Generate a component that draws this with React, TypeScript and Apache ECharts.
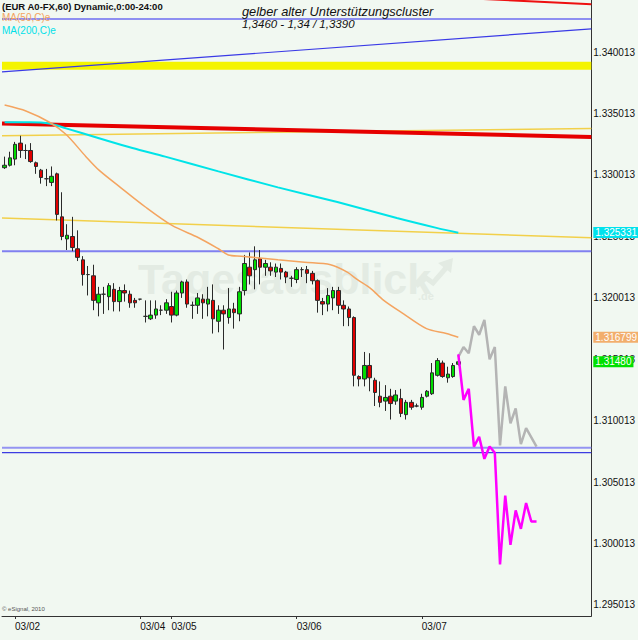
import React, { useEffect, useRef } from 'react';
import * as echarts from 'echarts';

// ---------- data ----------
const SLOTS = 113; // hourly slots on the x axis
const Y_MIN = 1.294108;
const Y_MAX = 1.34425;

// [open, close, low, high]
const candles: number[][] = [
  [1.3306, 1.3308, 1.3305, 1.3315], [1.3308, 1.3314, 1.3307, 1.3319], [1.3313, 1.3325, 1.3308, 1.3327],
  [1.3326, 1.3320, 1.3314, 1.3332], [1.3320, 1.3320, 1.3313, 1.3325], [1.3320, 1.3311, 1.3310, 1.3326],
  [1.3310, 1.3307, 1.3301, 1.3311], [1.3304, 1.3298, 1.3293, 1.3305], [1.3297, 1.3297, 1.3291, 1.3305],
  [1.3294, 1.3299, 1.3291, 1.3307], [1.3301, 1.3268, 1.3263, 1.3302], [1.3266, 1.3250, 1.3247, 1.3286],
  [1.3248, 1.3251, 1.3239, 1.3260], [1.3250, 1.3241, 1.3238, 1.3266], [1.3240, 1.3233, 1.3230, 1.3255],
  [1.3231, 1.3219, 1.3210, 1.3234], [1.3219, 1.3219, 1.3202, 1.3226], [1.3218, 1.3198, 1.3190, 1.3227],
  [1.3196, 1.3203, 1.3185, 1.3209], [1.3203, 1.3203, 1.3187, 1.3209], [1.3201, 1.3210, 1.3190, 1.3212],
  [1.3207, 1.3197, 1.3189, 1.3212], [1.3197, 1.3206, 1.3189, 1.3209], [1.3206, 1.3204, 1.3197, 1.3211],
  [1.3203, 1.3196, 1.3192, 1.3206], [1.3198, 1.3196, 1.3192, 1.3200], [1.3199, 1.3199, 1.3198, 1.3199],
  [1.3185, 1.3185, 1.3180, 1.3198], [1.3183, 1.3186, 1.3182, 1.3198], [1.3186, 1.3191, 1.3183, 1.3198],
  [1.3190, 1.3190, 1.3186, 1.3194], [1.3190, 1.3196, 1.3187, 1.3199], [1.3193, 1.3186, 1.3180, 1.3205],
  [1.3186, 1.3204, 1.3185, 1.3206], [1.3204, 1.3213, 1.3200, 1.3214], [1.3213, 1.3195, 1.3192, 1.3215],
  [1.3194, 1.3194, 1.3183, 1.3197], [1.3194, 1.3200, 1.3187, 1.3204], [1.3199, 1.3196, 1.3183, 1.3203],
  [1.3195, 1.3199, 1.3185, 1.3209], [1.3198, 1.3183, 1.3171, 1.3211], [1.3181, 1.3190, 1.3172, 1.3194],
  [1.3190, 1.3187, 1.3158, 1.3194], [1.3184, 1.3191, 1.3179, 1.3208], [1.3191, 1.3188, 1.3175, 1.3196],
  [1.3187, 1.3205, 1.3181, 1.3209], [1.3206, 1.3228, 1.3202, 1.3235], [1.3225, 1.3218, 1.3211, 1.3237],
  [1.3223, 1.3231, 1.3207, 1.3242], [1.3232, 1.3225, 1.3211, 1.3239], [1.3225, 1.3228, 1.3218, 1.3231],
  [1.3225, 1.3222, 1.3218, 1.3229], [1.3221, 1.3225, 1.3217, 1.3228], [1.3224, 1.3221, 1.3215, 1.3228],
  [1.3221, 1.3217, 1.3212, 1.3222], [1.3216, 1.3216, 1.3209, 1.3218], [1.3215, 1.3223, 1.3212, 1.3225],
  [1.3223, 1.3223, 1.3217, 1.3225], [1.3223, 1.3220, 1.3212, 1.3226], [1.3220, 1.3214, 1.3211, 1.3222],
  [1.3214, 1.3198, 1.3188, 1.3215], [1.3197, 1.3195, 1.3186, 1.3200], [1.3195, 1.3202, 1.3189, 1.3208],
  [1.3200, 1.3206, 1.3190, 1.3209], [1.3206, 1.3194, 1.3187, 1.3209], [1.3194, 1.3191, 1.3177, 1.3198],
  [1.3191, 1.3184, 1.3177, 1.3193], [1.3184, 1.3137, 1.3128, 1.3185], [1.3136, 1.3134, 1.3128, 1.3137],
  [1.3134, 1.3145, 1.3128, 1.3156], [1.3145, 1.3135, 1.3124, 1.3155], [1.3133, 1.3123, 1.3112, 1.3135],
  [1.3120, 1.3115, 1.3111, 1.3132], [1.3116, 1.3119, 1.3108, 1.3129], [1.3120, 1.3114, 1.3101, 1.3126],
  [1.3116, 1.3121, 1.3113, 1.3125], [1.3118, 1.3106, 1.3103, 1.3126], [1.3105, 1.3115, 1.3101, 1.3117],
  [1.3115, 1.3111, 1.3109, 1.3117], [1.3112, 1.3112, 1.3111, 1.3114], [1.3111, 1.3119, 1.3109, 1.3122],
  [1.3120, 1.3124, 1.3119, 1.3125], [1.3122, 1.3139, 1.3121, 1.3147], [1.3137, 1.3149, 1.3136, 1.3151],
  [1.3147, 1.3136, 1.3135, 1.3149], [1.3135, 1.3138, 1.3131, 1.3144], [1.3136, 1.3145, 1.3135, 1.3147],
  [1.3146, 1.3148, 1.3145, 1.3154],
];

// [bar position, value]
const ma50 = [
  [0, 1.3357], [4.2, 1.3352], [8.6, 1.3343], [11.8, 1.3333], [15.6, 1.3315], [18.1, 1.3304],
  [21.9, 1.3291], [27, 1.3274], [32.1, 1.3259], [37.2, 1.3249], [41, 1.3240], [42.9, 1.3235],
  [45.4, 1.3234], [52.4, 1.3231], [57.5, 1.3229], [62.5, 1.3227], [65.7, 1.3221], [67.6, 1.3215],
  [70.1, 1.3208], [72.7, 1.3198], [76.5, 1.3187], [80.9, 1.3175], [84.7, 1.3171], [87, 1.3168],
];
const ma200 = [
  [0, 1.3343], [4.8, 1.3343], [8.6, 1.3342], [11.8, 1.3338], [18.1, 1.3330], [24.5, 1.3322],
  [30.8, 1.3315], [41, 1.3303], [52.4, 1.3290], [63.8, 1.3278], [75.2, 1.3265], [82.8, 1.3257],
  [87, 1.3253],
];
const grayPath = [
  [87, 1.3152], [88, 1.3160], [89, 1.3155], [90, 1.3177], [91, 1.3170], [92, 1.3182], [93, 1.3150],
  [94, 1.3160], [95, 1.3080], [96, 1.3128], [97, 1.3098], [98, 1.3110], [99, 1.3081], [100, 1.3094],
  [102, 1.3079],
];
const magentaPath = [
  [87, 1.3154], [88, 1.3117], [89, 1.3126], [90, 1.3079], [91, 1.3087], [92, 1.3069], [93, 1.3079],
  [94, 1.3074], [95, 1.2983], [96, 1.3039], [97, 1.2999], [98, 1.3027], [99, 1.3012], [100, 1.3033],
  [101, 1.3018], [102, 1.3018],
];

// drawn lines: [startBar, startValue, endBar, endValue]
const redThick = [-0.5, 1.3342, 112.5, 1.3331];
const redThin = [88.5, 1.3444, 112.5, 1.3439];
const blueTop = [-0.5, 1.3427, 112.5, 1.3427];
const blueRise = [-0.5, 1.3384, 112.5, 1.3419];
const yellowBand = [-0.5, 1.3389, 112.5, 1.3389];
const goldUpper = [-0.5, 1.3332, 112.5, 1.3338];
const goldLower = [-0.5, 1.3265, 112.5, 1.3249];
const blueMid = [-0.5, 1.3238, 112.5, 1.3238];
const blueLow1 = [-0.5, 1.3078, 112.5, 1.3078];
const blueLow2 = [-0.5, 1.3074, 112.5, 1.3074];

const yTicks = [1.295013, 1.300013, 1.305013, 1.310013, 1.315013, 1.320013, 1.325013, 1.330013, 1.335013, 1.340013];
const dateTicks: [number, string][] = [[2, '03/02'], [26, '03/04'], [32, '03/05'], [56, '03/06'], [80, '03/07']];

const ma200Last = 1.325331;
const ma50Last = 1.316799;
const lastClose = 1.3148;

const FONT = '"Liberation Sans", Arial, sans-serif';

function seg(s: number[]) {
  return [[s[0], s[1]], [s[2], s[3]]];
}

function lineSeries(data: number[][], color: string, width: number, z: number, extra: any = {}) {
  return {
    type: 'line',
    xAxisIndex: 1,
    yAxisIndex: 0,
    data,
    symbol: 'none',
    silent: true,
    z,
    clip: true,
    lineStyle: { color, width },
    ...extra,
  };
}

function tagMarkLine(value: number, text: string, bg: string) {
  return {
    symbol: ['none', 'none'],
    silent: true,
    precision: 6,
    z: 10,
    lineStyle: { color: 'rgba(0,0,0,0)', width: 1, type: 'solid' },
    label: {
      show: true,
      position: 'end',
      formatter: text,
      color: '#ffffff',
      backgroundColor: bg,
      padding: [1, 2, 0, 2],
      fontSize: 10,
      fontFamily: FONT,
      distance: 2,
    },
    data: [{ yAxis: value }],
  };
}

export default function App() {
  const ref = useRef<HTMLDivElement>(null);

  useEffect(() => {
    if (!ref.current) return;
    const chart = echarts.init(ref.current, null, { renderer: 'svg' });
    const categories = Array.from({ length: SLOTS }, (_, i) => String(i));
    const labelAt: Record<number, string> = {};
    dateTicks.forEach(([i, l]) => (labelAt[i] = l));

    const option: any = {
      animation: false,
      backgroundColor: '#F1F8F1',
      textStyle: { fontFamily: FONT },
      grid: { left: 2, right: 42, top: 0, bottom: 24, containLabel: false },
      xAxis: [
        {
          type: 'category',
          data: categories,
          boundaryGap: true,
          axisLine: { show: true, onZero: false, lineStyle: { color: '#333', width: 1 } },
          axisTick: {
            show: true,
            alignWithLabel: true,
            length: 3,
            interval: (i: number) => labelAt[i] !== undefined,
            lineStyle: { color: '#333' },
          },
          axisLabel: {
            interval: 0,
            formatter: (_v: string, i: number) => labelAt[i] || '',
            align: 'left',
            margin: 5,
            fontSize: 10,
            color: '#111',
            fontFamily: FONT,
          },
          splitLine: { show: false },
        },
        { type: 'value', min: -0.5, max: SLOTS - 0.5, show: false },
      ],
      yAxis: [
        {
          type: 'value',
          position: 'right',
          min: Y_MIN,
          max: Y_MAX,
          splitLine: { show: false },
          axisLine: { show: true, onZero: false, lineStyle: { color: '#333', width: 1 } },
          axisTick: { show: false },
          axisLabel: {
            customValues: yTicks,
            formatter: (v: number) => v.toFixed(6),
            fontSize: 10,
            color: '#111',
            margin: 2,
            fontFamily: FONT,
          },
        },
      ],
      series: [
        lineSeries(seg(yellowBand), '#F4F400', 8, 1),
        lineSeries(seg(blueTop), '#6C6CF0', 1.5, 1),
        lineSeries(seg(blueRise), '#3A3AE6', 1.2, 1),
        lineSeries(seg(redThin), '#EE1010', 2, 1),
        lineSeries(seg(goldUpper), '#F2D04A', 1.5, 1),
        lineSeries(seg(goldLower), '#F2D04A', 1.5, 1),
        lineSeries(seg(redThick), '#E60000', 4, 1),
        lineSeries(seg(blueMid), '#8080F0', 2, 1),
        lineSeries(seg(blueLow1), '#9494F2', 2, 1),
        lineSeries(seg(blueLow2), '#3C3CE2', 1.2, 1),
        {
          type: 'candlestick',
          xAxisIndex: 0,
          yAxisIndex: 0,
          data: candles,
          barWidth: 4,
          silent: true,
          z: 2,
          itemStyle: {
            color: '#00DD00',
            color0: '#E00000',
            borderColor: '#2a2a2a',
            borderColor0: '#2a2a2a',
            borderWidth: 1,
          },
        },
        lineSeries(ma200, '#00E4E8', 2, 3, {
          smooth: 0.3,
          markLine: tagMarkLine(ma200Last, '1.325331', '#00E2EC'),
        }),
        lineSeries(ma50, '#F4A460', 1.5, 3, {
          smooth: 0.3,
          markLine: tagMarkLine(ma50Last, '1.316799', '#F2AE6C'),
        }),
        lineSeries(grayPath, '#B4B4B4', 2.5, 3),
        lineSeries(magentaPath, '#FF00FF', 2.5, 4, {
          markLine: tagMarkLine(lastClose, '1.31480', '#00E000'),
        }),
      ],
      graphic: [
        {
          type: 'text', x: 138, y: 279, z: 0, silent: true,
          style: { text: 'Tagesausblick', font: `bold 43px ${FONT}`, fill: '#E3EBE3', textVerticalAlign: 'middle', verticalAlign: 'middle' },
        },
        {
          type: 'text', x: 418, y: 296, z: 0, silent: true,
          style: { text: '.de', font: `bold 11px ${FONT}`, fill: '#E3EBE3', textVerticalAlign: 'middle', verticalAlign: 'middle' },
        },
        {
          type: 'polyline', z: 0, silent: true,
          shape: { points: [[416, 286], [426, 278], [433, 283], [446, 268]] },
          style: { stroke: '#E3EBE3', lineWidth: 5, fill: null },
        },
        {
          type: 'polygon', z: 0, silent: true,
          shape: { points: [[438, 263], [453, 258], [451, 273]] },
          style: { fill: '#E3EBE3' },
        },
        {
          type: 'text', x: 2, y: 6, z: 100, silent: true,
          style: { text: '(EUR A0-FX,60) Dynamic,0:00-24:00', font: `bold 9.5px ${FONT}`, fill: '#111', textVerticalAlign: 'middle', verticalAlign: 'middle' },
        },
        {
          type: 'text', x: 2, y: 17, z: 100, silent: true,
          style: { text: 'MA(50,C)e', font: `10px ${FONT}`, fill: '#F4A460', textVerticalAlign: 'middle', verticalAlign: 'middle' },
        },
        {
          type: 'text', x: 2, y: 30.5, z: 100, silent: true,
          style: { text: 'MA(200,C)e', font: `10px ${FONT}`, fill: '#00E0E8', textVerticalAlign: 'middle', verticalAlign: 'middle' },
        },
        {
          type: 'text', x: 242, y: 11, z: 100, silent: true,
          style: { text: 'gelber alter Unterstützungscluster', font: `italic 12.8px ${FONT}`, fill: '#111', textVerticalAlign: 'middle', verticalAlign: 'middle' },
        },
        {
          type: 'text', x: 242, y: 24, z: 100, silent: true,
          style: { text: '1,3460 - 1,34 / 1,3390', font: `italic 11.5px ${FONT}`, fill: '#111', textVerticalAlign: 'middle', verticalAlign: 'middle' },
        },
        {
          type: 'text', x: 2, y: 609, z: 100, silent: true,
          style: { text: '© eSignal, 2010', font: `6px ${FONT}`, fill: '#555', textVerticalAlign: 'middle', verticalAlign: 'middle' },
        },
      ],
    };

    chart.setOption(option);
    return () => chart.dispose();
  }, []);

  return <div ref={ref} style={{ position: 'fixed', left: 0, top: 0, width: 638, height: 640 }} />;
}
